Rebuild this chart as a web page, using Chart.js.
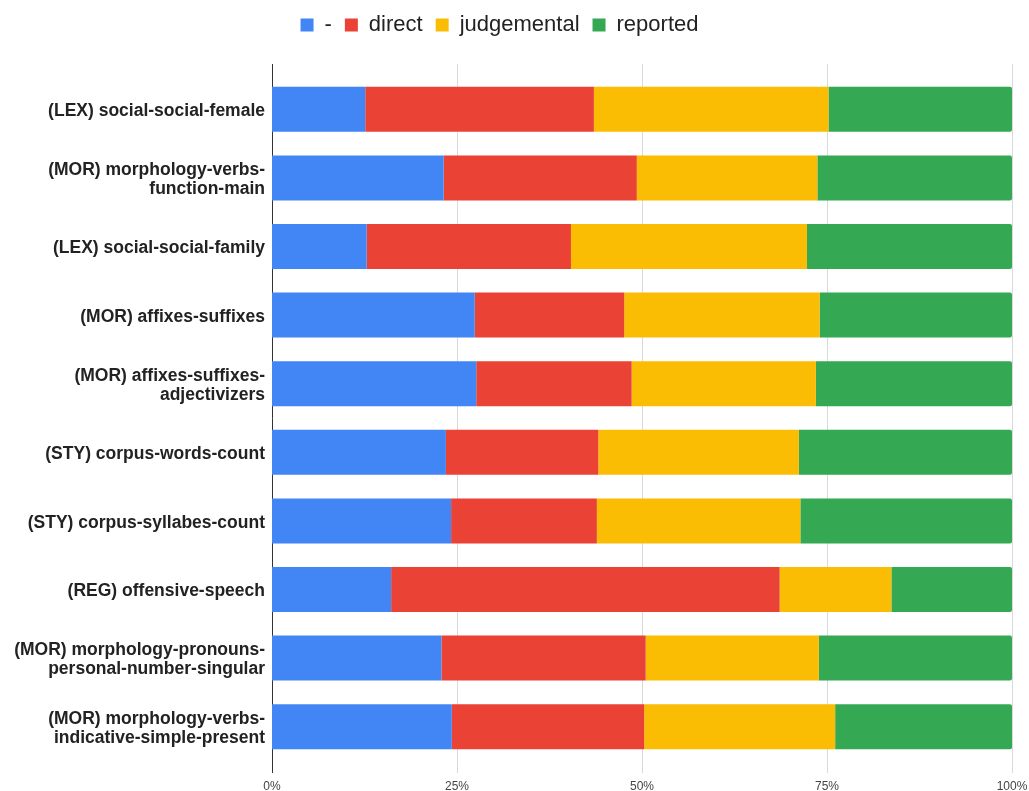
<!DOCTYPE html>
<html>
<head>
<meta charset="utf-8">
<script src="https://cdn.jsdelivr.net/npm/chart.js@4.4.0/dist/chart.umd.min.js"></script>
<style>
  html, body { margin: 0; padding: 0; background: #fff; }
  #wrap { width: 1029px; height: 791px; position: relative; }
</style>
</head>
<body>
<div id="wrap"><canvas id="chart"></canvas></div>
<script>
// categories (multi-line labels as arrays)
const categories = [
    '(LEX) social-social-female',
    ['(MOR) morphology-verbs-', 'function-main'],
    '(LEX) social-social-family',
    '(MOR) affixes-suffixes',
    ['(MOR) affixes-suffixes-', 'adjectivizers'],
    '(STY) corpus-words-count',
    '(STY) corpus-syllabes-count',
    '(REG) offensive-speech',
    ['(MOR) morphology-pronouns-', 'personal-number-singular'],
    ['(MOR) morphology-verbs-', 'indicative-simple-present']
];

// share of each type per row, in %
const dashValues        = [12.6, 23.2, 12.8, 27.4, 27.6, 23.5, 24.2, 16.1, 22.9, 24.3];
const directValues      = [30.9, 26.1, 27.6, 20.2, 21.0, 20.6, 19.7, 52.5, 27.6, 26.0];
const judgementalValues = [31.7, 24.4, 31.9, 26.4, 24.9, 27.1, 27.5, 15.1, 23.4, 25.8];
const reportedValues    = [24.8, 26.3, 27.7, 26.0, 26.5, 28.8, 28.6, 16.3, 26.1, 23.9];

const seriesNames = ['-', 'direct', 'judgemental', 'reported'];
const xTicks = [0, 25, 50, 75, 100];

const colors = ['#4285F4', '#EA4335', '#FBBC04', '#34A853'];
const FONT = '"Liberation Sans", Arial, sans-serif';

// grid lines drawn a bit past the bar area, like the original
const gridPlugin = {
    id: 'extGrid',
    beforeDatasetsDraw(chart) {
        const x = chart.scales.x;
        const area = chart.chartArea;
        const c = chart.ctx;
        c.save();
        xTicks.forEach(v => {
            const px = Math.round(x.getPixelForValue(v)) + 0.5;
            c.beginPath();
            c.strokeStyle = v === 0 ? '#333333' : '#d9d9d9';
            c.lineWidth = 1;
            c.moveTo(px, area.top - 11);
            c.lineTo(px, area.bottom + 12);
            c.stroke();
        });
        c.restore();
    }
};

// more room under the legend, and legend moved a little to the left
const legendPlugin = {
    id: 'legendSpace',
    beforeInit(chart) {
        const fit = chart.legend.fit;
        chart.legend.fit = function () {
            fit.call(this);
            this.height += 29;
        };
    },
    afterLayout(chart) {
        chart.legend.right -= 30;
    }
};

const allValues = [dashValues, directValues, judgementalValues, reportedValues];

new Chart(document.getElementById('chart').getContext('2d'), {
    type: 'bar',
    data: {
        labels: categories,
        datasets: seriesNames.map((name, i) => ({
            label: name,
            data: allValues[i],
            backgroundColor: colors[i],
            borderWidth: 0,
            borderRadius: i === 3 ? 2 : 0,
            borderSkipped: 'start',
            barPercentage: 0.656,
            categoryPercentage: 1.0
        }))
    },
    options: {
        indexAxis: 'y',
        responsive: true,
        maintainAspectRatio: false,
        animation: false,
        layout: { padding: { top: 1, right: 0, bottom: 0, left: 0 } },
        plugins: {
            legend: {
                position: 'top',
                labels: {
                    boxWidth: 13,
                    boxHeight: 13,
                    padding: 13,
                    color: '#222222',
                    font: { family: FONT, size: 22 }
                }
            },
            tooltip: { enabled: false }
        },
        scales: {
            x: {
                stacked: true,
                min: 0,
                max: 100,
                grid: { display: false, drawTicks: false },
                border: { display: false },
                ticks: {
                    stepSize: 25,
                    padding: 18,
                    color: '#444444',
                    font: { family: FONT, size: 12 },
                    callback: v => v + '%'
                },
                afterFit: s => {
                    s.height = 30;
                    s.paddingLeft = 0;
                    s.paddingRight = 17;
                }
            },
            y: {
                stacked: true,
                grid: { display: false, drawTicks: false },
                border: { display: false },
                ticks: {
                    padding: 7,
                    labelOffset: 2,
                    color: '#222222',
                    font: { family: FONT, size: 17.5, weight: 'bold', lineHeight: 1.09 }
                },
                afterFit: s => { s.width = 272; }
            }
        }
    },
    plugins: [gridPlugin, legendPlugin]
});
</script>
</body>
</html>
